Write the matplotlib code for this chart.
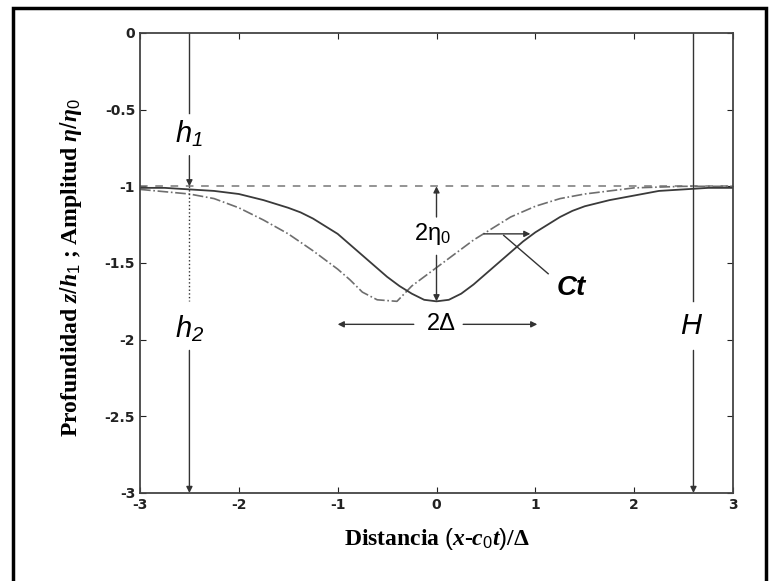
import matplotlib.pyplot as plt
from matplotlib.patches import Rectangle

plt.rcParams['axes.unicode_minus'] = False
plt.rcParams['mathtext.fontset'] = 'custom'
plt.rcParams['mathtext.it'] = 'Liberation Serif:italic:bold'
plt.rcParams['mathtext.rm'] = 'Liberation Sans'
plt.rcParams['mathtext.sf'] = 'Liberation Sans:italic'

# solitary wave at t (solid) and a moment later (dash-dot)
x_solid = [-3, -2.75, -2.5, -2.25, -2, -1.75, -1.5, -1.375, -1.25, -1.125, -1, -0.875, -0.75,
           -0.625, -0.5, -0.375, -0.25, -0.125, 0, 0.125, 0.25, 0.375, 0.5, 0.625, 0.75,
           0.875, 1, 1.125, 1.25, 1.375, 1.5, 1.75, 2, 2.25, 2.5, 2.75, 3]
y_solid = [-1.01, -1.01, -1.02, -1.03, -1.05, -1.09, -1.14, -1.17, -1.21, -1.26, -1.31, -1.38, -1.45,
           -1.52, -1.59, -1.65, -1.70, -1.74, -1.75, -1.74, -1.70, -1.64, -1.57, -1.50, -1.43,
           -1.36, -1.30, -1.25, -1.20, -1.16, -1.13, -1.09, -1.06, -1.03, -1.02, -1.01, -1.01]

x_dash = [-3, -2.5, -2.25, -2, -1.75, -1.5, -1.25, -1, -0.875, -0.75, -0.6, -0.4, -0.25,
          -0.125, 0, 0.125, 0.25, 0.375, 0.5, 0.75, 1, 1.25, 1.5, 1.75, 2, 2.5, 3]
y_dash = [-1.02, -1.05, -1.08, -1.14, -1.22, -1.31, -1.42, -1.54, -1.61, -1.69, -1.74, -1.75, -1.65,
          -1.59, -1.53, -1.47, -1.41, -1.35, -1.30, -1.20, -1.13, -1.08, -1.05, -1.03, -1.01, -1.0, -1.0]

x_level = [-3, 3]
y_level = [-1, -1]

x_ticks = [-3, -2, -1, 0, 1, 2, 3]
y_ticks = [0, -0.5, -1, -1.5, -2, -2.5, -3]
y_ticklabels = ['0', '-0.5', '-1', '-1.5', '-2', '-2.5', '-3']

h_x = -2.5
H_x = 2.6

fig = plt.figure(figsize=(7.69, 5.81), dpi=100)
ax = fig.add_axes([140/769, 1 - 493/581, 593/769, 460/581])

ax.plot(x_level, y_level, color='#777777', lw=1.1, dashes=(5, 5))
ax.plot(x_dash, y_dash, color='#6e6e6e', lw=1.2, linestyle='-.')
ax.plot(x_solid, y_solid, color='#3a3a3a', lw=1.3)

ax.set_xlim(-3, 3)
ax.set_ylim(-3, 0)
ax.set_xticks(x_ticks)
ax.set_xticklabels([str(t) for t in x_ticks])
ax.set_yticks(y_ticks)
ax.set_yticklabels(y_ticklabels)
ax.tick_params(direction='in', top=True, right=True, length=4, width=0.8,
               labelsize=10, colors='#222222')
for lab in ax.get_xticklabels() + ax.get_yticklabels():
    lab.set_fontweight('bold')
for s in ax.spines.values():
    s.set_color('#444444')
    s.set_linewidth(1.3)

ax.set_xlabel(r'Distancia $(x$-$c_{\mathit{0}}t)$/Δ', fontsize=17, fontweight='bold',
              family='Liberation Serif', labelpad=10)
ax.set_ylabel(r'Profundidad $z/h_{\mathit{1}}$ ; Amplitud $\eta/\eta_{\mathit{0}}$', fontsize=17,
              fontweight='bold', family='Liberation Serif')
ax.yaxis.set_label_coords(-0.095, 0.49)

lc = '#333333'
arw = dict(arrowstyle='-|>', color=lc, lw=1.0, mutation_scale=9, shrinkA=0, shrinkB=0)

# h1 / h2 marker
ax.plot([h_x, h_x], [0, -0.52], color=lc, lw=1.0)
ax.annotate('', xy=(h_x, -1), xytext=(h_x, -0.8), arrowprops=arw)
ax.plot([h_x, h_x], [-1, -1.75], color=lc, lw=1.0, linestyle=':')
ax.annotate('', xy=(h_x, -3), xytext=(h_x, -2.07), arrowprops=arw)
ax.text(h_x, -0.66, r'$\mathsf{h}_{\mathsf{1}}$', fontsize=21, ha='center', va='center')
ax.text(h_x, -1.93, r'$\mathsf{h}_{\mathsf{2}}$', fontsize=21, ha='center', va='center')

# H marker
ax.plot([H_x, H_x], [0, -1.75], color=lc, lw=1.0)
ax.annotate('', xy=(H_x, -3), xytext=(H_x, -2.07), arrowprops=arw)
ax.text(H_x - 0.03, -1.91, 'H', fontsize=21, style='italic', family='Liberation Sans',
        ha='center', va='center')

# 2 eta_0
ax.annotate('', xy=(0, -1), xytext=(0, -1.2), arrowprops=arw)
ax.annotate('', xy=(0, -1.75), xytext=(0, -1.45), arrowprops=arw)
ax.text(-0.04, -1.31, r'$\mathrm{2\eta_0}$', fontsize=17, ha='center', va='center')

# 2 Delta
ax.annotate('', xy=(-1.0, -1.9), xytext=(-0.23, -1.9), arrowprops=arw)
ax.annotate('', xy=(1.02, -1.9), xytext=(0.27, -1.9), arrowprops=arw)
ax.text(0.05, -1.9, '2Δ', fontsize=17, family='Liberation Sans', ha='center', va='center')

# Ct
ax.annotate('', xy=(0.95, -1.31), xytext=(0.48, -1.31), arrowprops=arw)
ax.plot([0.68, 1.13], [-1.32, -1.57], color=lc, lw=1.0)
ax.text(1.36, -1.66, 'Ct', fontsize=20, style='italic', fontweight='bold',
        family='Liberation Sans', ha='center', va='center')

# scanned page frame
fig.patches.append(Rectangle((13/769, -0.05), 753/769, 1.05 - 8/581, transform=fig.transFigure,
                             fill=False, edgecolor='black', lw=2.5))

fig.savefig('out.png', dpi=100)
